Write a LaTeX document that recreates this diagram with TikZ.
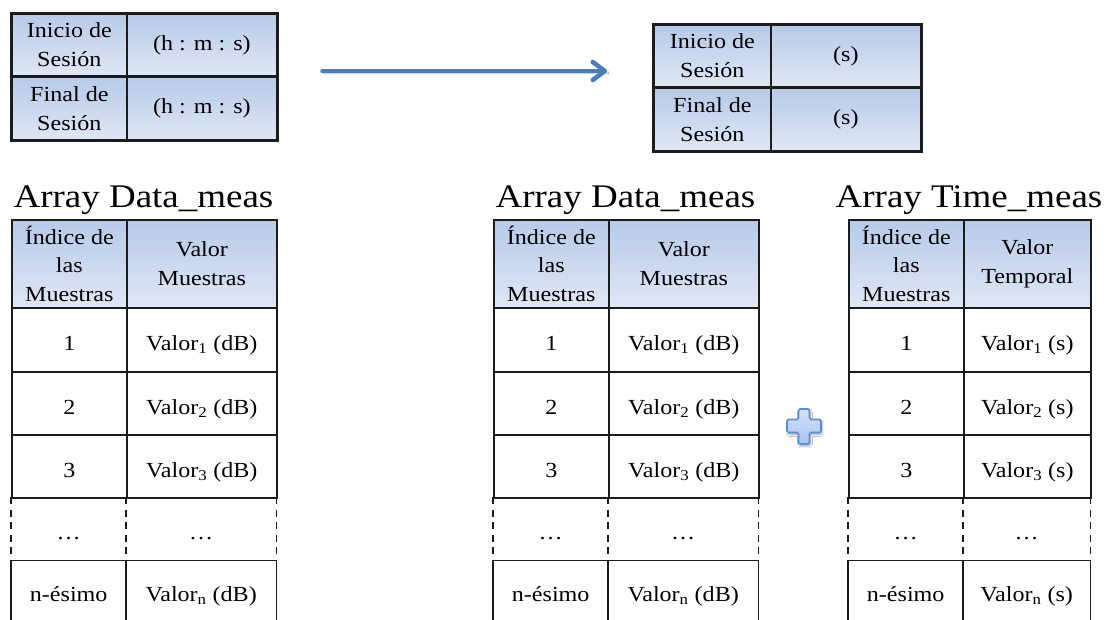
\documentclass[tikz,border=0pt]{standalone}
\usepackage{fontspec}
\setmainfont{Liberation Serif}[FakeStretch=1.12]
\usetikzlibrary{arrows.meta,shadows.blur}

\definecolor{gridline}{HTML}{1C1C1C}
\definecolor{hdrtop}{HTML}{B7CAE9}
\definecolor{hdrbot}{HTML}{DFE7F4}
\definecolor{arrowblue}{HTML}{4A7EBB}
\definecolor{plusedge}{HTML}{5A8ED8}
\definecolor{plustop}{HTML}{D4E2FA}
\definecolor{plusbot}{HTML}{A9C4EF}

\newcommand\cellfont{\fontsize{21.5}{28.5}\selectfont}
\newcommand\titlefont{\fontsize{33}{38}\selectfont}

\tikzset{
  grid/.style={draw=gridline, line width=1.7pt},
  frame/.style={draw=gridline, line width=2.2pt},
  plain/.style={anchor=north west, inner sep=0pt, font=\cellfont,
    text height=22pt, text depth=0pt, align=center},
  cell/.style={plain, grid, minimum height=63pt},
  hdr/.style={anchor=north west, inner sep=0pt, font=\cellfont, align=center,
    grid, top color=hdrtop, bottom color=hdrbot},
  arraytitle/.style={inner sep=0pt, font=\titlefont},
  flow/.style={draw=arrowblue, line width=3.5pt, line cap=round,
    -{Straight Barb[length=12pt,width=18pt,line width=4.5pt,round]},
    blur shadow={shadow xshift=1pt, shadow yshift=-2pt, shadow blur steps=6, shadow opacity=30}},
  plus/.style={draw=plusedge, line width=1.6pt, rounded corners=1.5pt,
    top color=plustop, bottom color=plusbot,
    blur shadow={shadow xshift=1pt, shadow yshift=-2pt, shadow blur steps=6, shadow opacity=35}}
}

% A session table: #1 name, #2 left x, #3 split x, #4 right x, #5 top y, #6 time format
\newcommand\sessiontab[6]{%
  \pgfmathsetmacro\wa{#3-#2}%
  \pgfmathsetmacro\wb{#4-#3}%
  \node[hdr, minimum width=\wa pt, minimum height=62pt] (#1-a1) at (#2,#5) {Inicio de\\Sesión};
  \node[hdr, minimum width=\wb pt, minimum height=62pt] (#1-b1) at (#3,#5) {#6};
  \node[hdr, minimum width=\wa pt, minimum height=62pt] (#1-a2) at (#1-a1.south west) {Final de\\Sesión};
  \node[hdr, minimum width=\wb pt, minimum height=62pt] (#1-b2) at (#1-b1.south west) {#6};
  \draw[frame] (#1-a1.north west) rectangle (#1-b2.south east);
}

% A sample array: #1 name, #2 left x, #3 split x, #4 right x, #5 title, #6 value header, #7 unit
\newcommand\arraytab[7]{%
  \pgfmathsetmacro\wa{#3-#2}%
  \pgfmathsetmacro\wb{#4-#3}%
  \node[arraytitle, anchor=base] (#1-title) at ({(#2+#4)/2},207) {#5};
  \node[hdr, minimum width=\wa pt, minimum height=88pt] (#1-h1) at (#2,219) {Índice de\\las\\Muestras};
  \node[hdr, minimum width=\wb pt, minimum height=88pt] (#1-h2) at (#3,219) {#6};
  \foreach \i/\y/\h in {1/307/64,2/371/63,3/434/63}{
    \node[cell, minimum width=\wa pt, minimum height=\h pt] (#1-a\i) at (#2,\y) {\i};
    \node[cell, minimum width=\wb pt, minimum height=\h pt] (#1-b\i) at (#3,\y) {Valor\textsubscript{\i} (#7)};
  }
  \node[plain, minimum width=\wa pt, minimum height=63pt] (#1-a4) at (#2,497) {\dots};
  \node[plain, minimum width=\wb pt, minimum height=63pt] (#1-b4) at (#3,497) {\dots};
  \node[plain, minimum width=\wa pt, minimum height=60pt] (#1-a5) at (#2,560) {n-ésimo};
  \node[plain, minimum width=\wb pt, minimum height=60pt] (#1-b5) at (#3,560) {Valor\textsubscript{n} (#7)};
  % rows of dots: solid rules across, dashed sides
  \draw[grid] (#1-a4.south west) -- (#1-b4.south east);
  \draw[grid, dash pattern=on 7pt off 5.5pt] (#1-a4.north west) -- (#1-a4.south west)
    (#1-b4.north west) -- (#1-b4.south west) (#1-b4.north east) -- (#1-b4.south east);
  % last row runs on past the lower edge
  \draw[grid] (#1-a5.north west) -- (#1-a5.south west)
    (#1-b5.north west) -- (#1-b5.south west) (#1-b5.north east) -- (#1-b5.south east);
}

\begin{document}
\begin{tikzpicture}[x=1pt, y=-1pt]
  \useasboundingbox[fill=white] (0,0) rectangle (1105,619);

  \sessiontab{hms}{11}{126}{276}{13}{(h : m : s)}
  \sessiontab{sec}{653}{770}{920}{24}{(s)}

  \coordinate (convfrom) at (322,71);
  \coordinate (convto) at (607,71);
  \draw[flow] (convfrom) -- (convto);

  \arraytab{data}{11}{126}{276}{Array Data\_meas}{Valor\\Muestras}{dB}
  \arraytab{datas}{493}{608}{758}{Array Data\_meas}{Valor\\Muestras}{dB}
  \arraytab{time}{848}{963}{1090}{Array Time\_meas}{Valor\\Temporal}{s}

  % plus sign joining the two arrays
  \path[plus] (798.5,409) -- (809.5,409) -- (809.5,419.5) -- (821,419.5)
    -- (821,432.5) -- (809.5,432.5) -- (809.5,444) -- (798.5,444)
    -- (798.5,432.5) -- (787,432.5) -- (787,419.5) -- (798.5,419.5) -- cycle;
\end{tikzpicture}
\end{document}
